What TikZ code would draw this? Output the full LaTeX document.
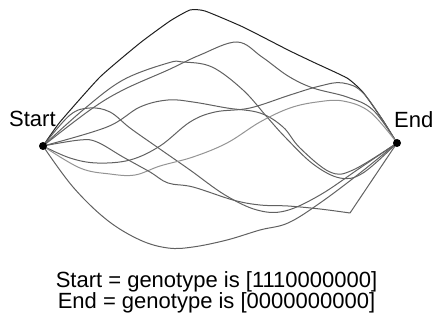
\documentclass[tikz,border=0pt]{standalone}
\usepackage{fontspec}
\setmainfont{Liberation Sans}
\begin{document}
\begin{tikzpicture}[x=1pt,y=-1pt,
  path/.style={line width=1pt, draw=black!62, line join=round},
  toppath/.style={path, draw=black!88},
  lightpath/.style={path, draw=black!42},
  dot/.style={circle, fill=black, inner sep=0pt, minimum size=8pt},
  lbl/.style={inner sep=0pt, font=\fontsize{22}{26}\selectfont}]
\useasboundingbox (0,0) rectangle (433,320);
\coordinate (S) at (43,146);
\coordinate (E) at (397,143);
% A (top, dark)
\draw[toppath] plot[smooth, tension=0.3] coordinates {(S) (60,122) (100,77) (140,43) (170,21) (190,10) (205,11) (243,27) (288,50) (313,62) (347,78) (362,91) (373,106) (384,122) (E)};
% B
\draw[path] plot[smooth, tension=0.6] coordinates {(S) (90,110) (123,90) (168,70) (200,55) (237,42) (262,57) (288,76) (313,88) (347,97) (373,110) (E)};
% C
\draw[path] plot[smooth, tension=0.6] coordinates {(S) (83,110) (123,80) (168,63) (183,62) (212,67) (243,90) (267,117) (285,137) (313,164) (340,178) (363,173) (E)};
% D
\draw[path] plot[smooth, tension=0.6] coordinates {(S) (107,127) (140,107) (168,100) (193,102) (227,108) (260,113) (283,127) (300,148) (330,172) (353,170) (E)};
% H
\draw[path] plot[smooth, tension=0.6] coordinates {(S) (70,115) (90,108) (110,112) (130,128) (157,147) (190,170) (225,195) (257,210) (285,211) (320,195) (360,168) (E)};
% F
\draw[path] plot[smooth, tension=0.6] coordinates {(S) (70,158) (97,163) (130,160) (160,146) (190,122) (215,112) (250,108) (290,95) (320,86) (343,83) (365,95) (E)};
% G (light)
\draw[lightpath] plot[smooth, tension=0.6] coordinates {(S) (80,168) (110,174) (135,175) (160,166) (193,157) (227,143) (260,122) (290,108) (317,102) (343,101) (370,112) (E)};
% I (with corner)
\coordinate (Icorner) at (350,213);
\draw[path] plot[smooth, tension=0.6] coordinates {(S) (80,140) (97,142) (123,157) (150,172) (168,183) (193,187) (233,200) (260,205) (288,206) (320,209) (Icorner)} -- (E);
% bottom
\draw[path] plot[smooth, tension=0.6] coordinates {(S) (73,187) (107,220) (140,240) (168,248) (193,247) (227,240) (260,230) (288,223) (320,203) (360,173) (E)};
\node[dot] (sdot) at (S) {};
\node[dot] (edot) at (E) {};
\node[lbl, anchor=base west] (slbl) at (9,127) {Start};
\node[lbl, anchor=base west] (elbl) at (394,128) {End};
\node[lbl, anchor=base] (line1) at (216.5,287) {Start = genotype is [1110000000]};
\node[lbl, anchor=base] (line2) at (216.5,308) {End = genotype is [0000000000]};
\end{tikzpicture}
\end{document}
